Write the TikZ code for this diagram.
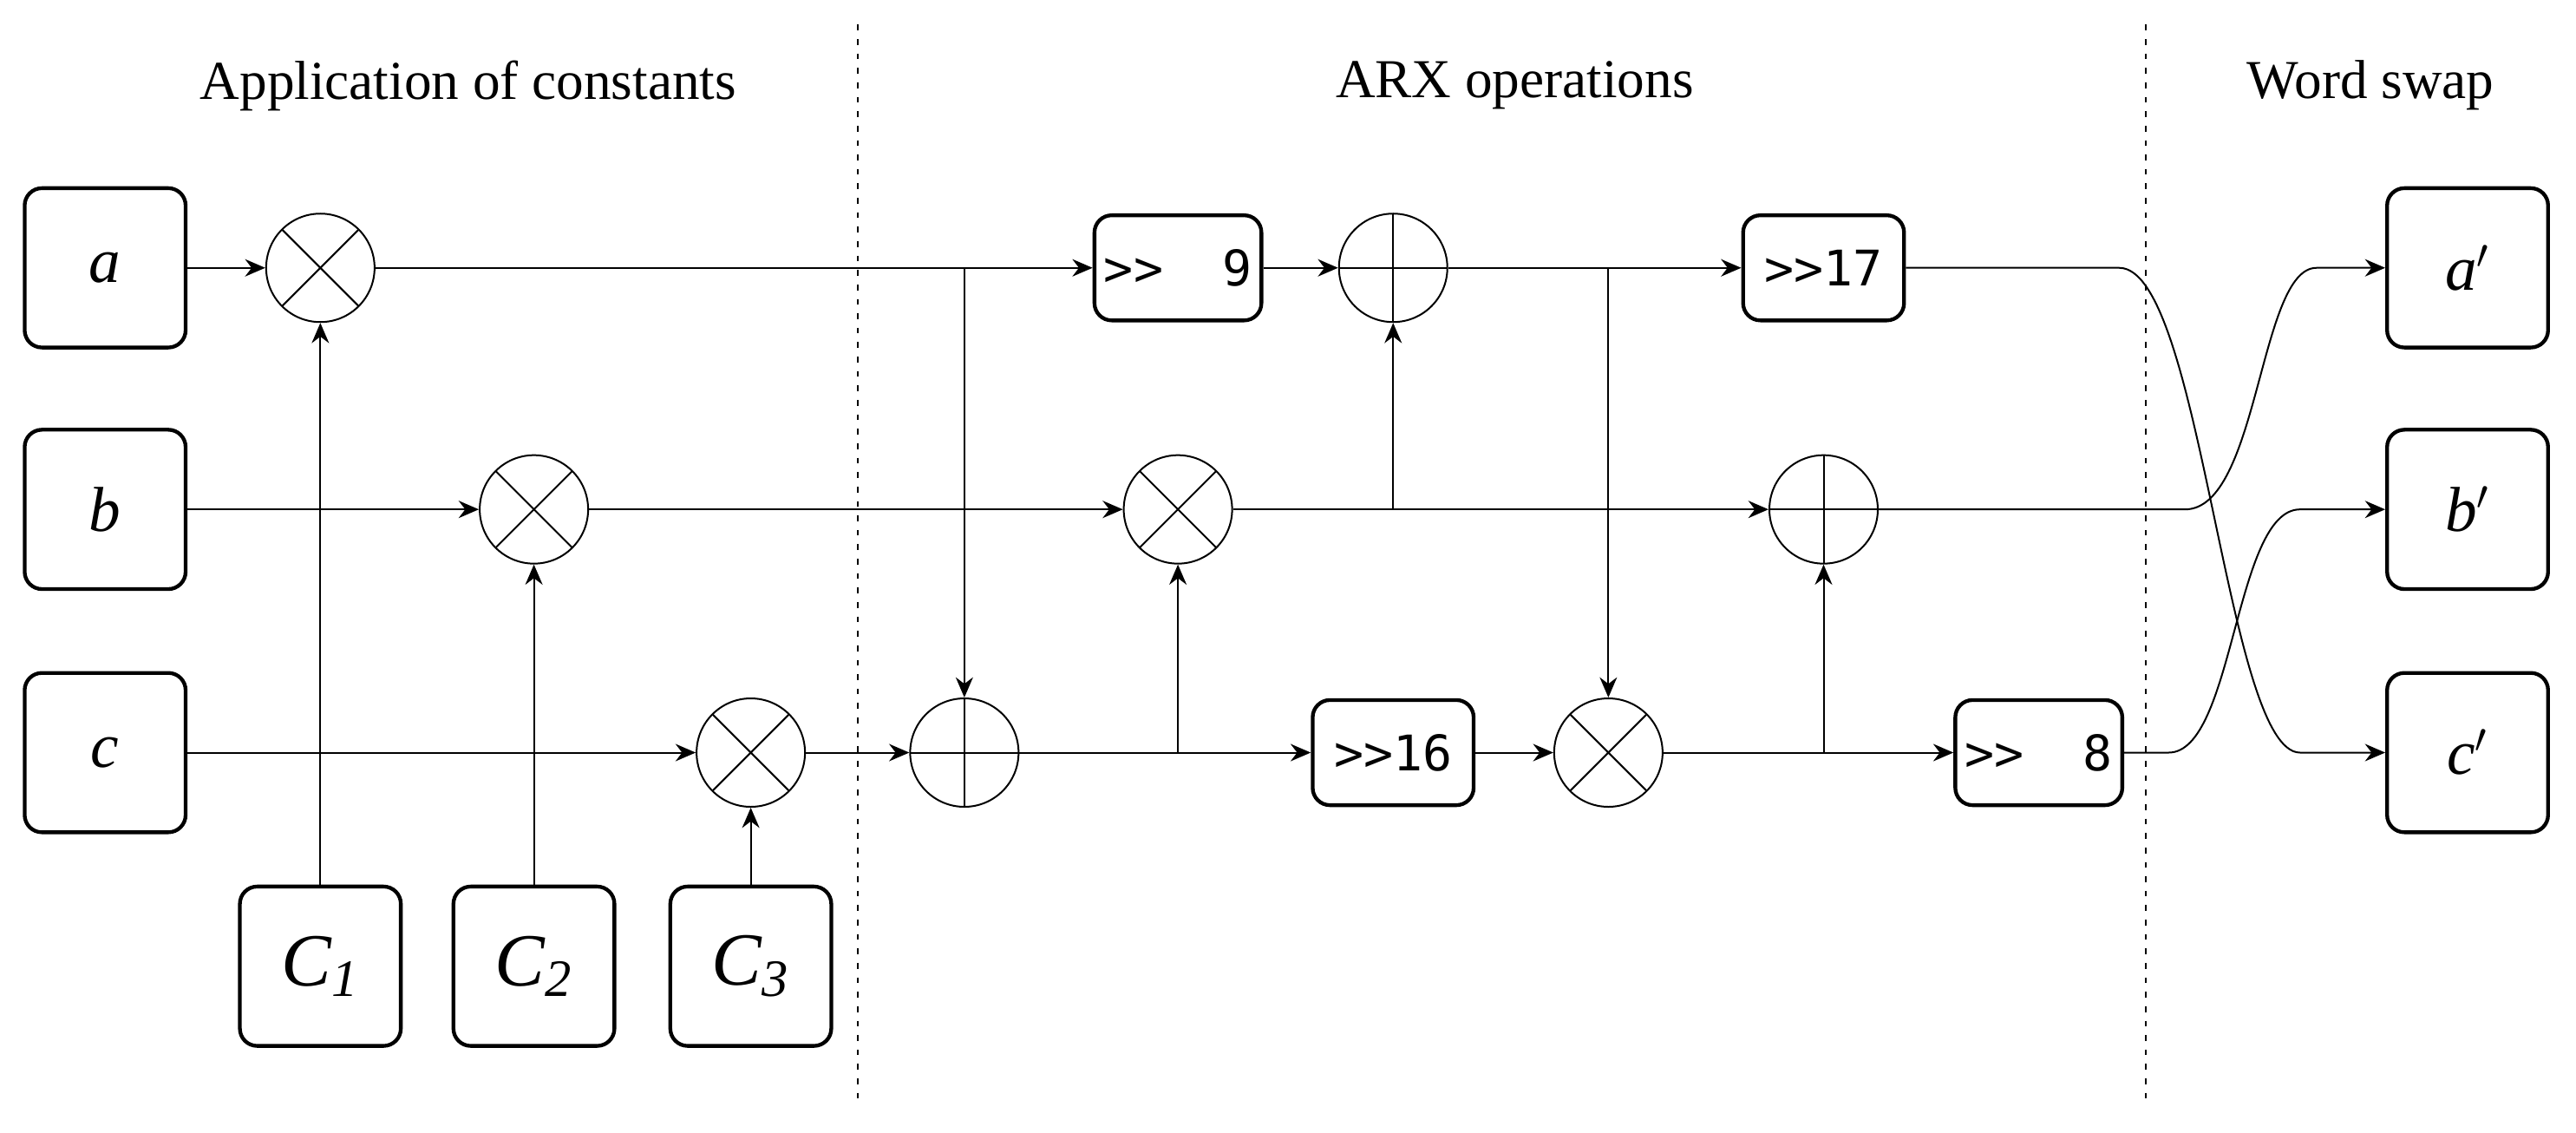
\documentclass[tikz,border=0pt]{standalone}
\usepackage{fontspec}
\setmainfont{Liberation Serif}
\newfontfamily\shiftfont{DejaVu Sans Mono}
\usetikzlibrary{arrows.meta}
\begin{document}
\begin{tikzpicture}[x=0.02cm,y=-0.02cm,
  >={Stealth[length=7pt,width=6pt]},
  every path/.style={line width=0.6pt},
  io/.style={draw,line width=1.3pt,rounded corners=6pt,minimum width=1.96cm,minimum height=1.94cm,font=\fontsize{22}{24}\selectfont\itshape},
  sh/.style={draw,line width=1.3pt,rounded corners=6pt,minimum width=1.96cm,minimum height=1.28cm,font=\fontsize{17}{19}\selectfont\shiftfont},
  op/.style={draw,circle,minimum size=1.32cm,inner sep=0pt},
  mul/.style={op,path picture={\draw (path picture bounding box.north west)--(path picture bounding box.south east) (path picture bounding box.north east)--(path picture bounding box.south west);}},
  add/.style={op,path picture={\draw (path picture bounding box.north)--(path picture bounding box.south) (path picture bounding box.east)--(path picture bounding box.west);}},
  ttl/.style={font=\fontsize{19}{21}\selectfont}]
\useasboundingbox (0,0) rectangle (1568,689);
\draw[dash pattern=on 2pt off 3pt] (522,15)--(522,670) (1306,15)--(1306,670);
\node[ttl] (t1) at (285,52) {Application of constants};
\node[ttl] (t2) at (922,52) {ARX operations};
\node[ttl] (t3) at (1443,52) {Word swap};
\node[io] (a) at (64,163) {a};
\node[io] (b) at (64,310) {b};
\node[io] (c) at (64,458) {c};
\node[io,font=\fontsize{26}{28}\selectfont\itshape] (C1) at (195,588) {C\textsubscript{1}};
\node[io,font=\fontsize{26}{28}\selectfont\itshape] (C2) at (325,588) {C\textsubscript{2}};
\node[io,font=\fontsize{26}{28}\selectfont\itshape] (C3) at (457,588) {C\textsubscript{3}};
\node[io] (ao) at (1502,163) {a$'$};
\node[io] (bo) at (1502,310) {b$'$};
\node[io] (co) at (1502,458) {c$'$};
\node[mul] (m1) at (195,163) {};
\node[mul] (m2) at (325,310) {};
\node[mul] (m3) at (457,458) {};
\node[add] (ac) at (587,458) {};
\node[sh] (s9) at (717,163) {>>~~9};
\node[add] (aa) at (848,163) {};
\node[mul] (mb) at (717,310) {};
\node[sh] (s16) at (848,458) {>>16};
\node[mul] (mc) at (979,458) {};
\node[sh] (s17) at (1110,163) {>>17};
\node[add] (ab) at (1110,310) {};
\node[sh] (s8) at (1241,458) {>>~~8};
\coordinate (j1) at (587,163);
\coordinate (j2) at (717,458);
\coordinate (j3) at (848,310);
\coordinate (j4) at (979,163);
\coordinate (j5) at (1110,458);
\draw[->] (a)--(m1);
\draw[->] (b)--(m2);
\draw[->] (c)--(m3);
\draw[->] (C1)--(m1);
\draw[->] (C2)--(m2);
\draw[->] (C3)--(m3);
\draw[->] (m1)--(s9);
\draw[->] (j1)--(ac);
\draw[->] (m2)--(mb);
\draw[->] (m3)--(ac);
\draw[->] (ac)--(s16);
\draw[->] (j2)--(mb);
\draw[->] (s9)--(aa);
\draw[->] (mb)--(ab);
\draw[->] (j3)--(aa);
\draw[->] (aa)--(s17);
\draw[->] (j4)--(mc);
\draw[->] (s16)--(mc);
\draw[->] (mc)--(s8);
\draw[->] (j5)--(ab);
\draw[->] (s17.east)--(1290,163) .. controls (1340,163) and (1355,458) .. (1400,458)--(co.west);
\draw[->] (ab.east)--(1330,310) .. controls (1375,310) and (1375,163) .. (1410,163)--(ao.west);
\draw[->] (s8.east)--(1320,458) .. controls (1360,458) and (1360,310) .. (1400,310)--(bo.west);
\end{tikzpicture}
\end{document}
